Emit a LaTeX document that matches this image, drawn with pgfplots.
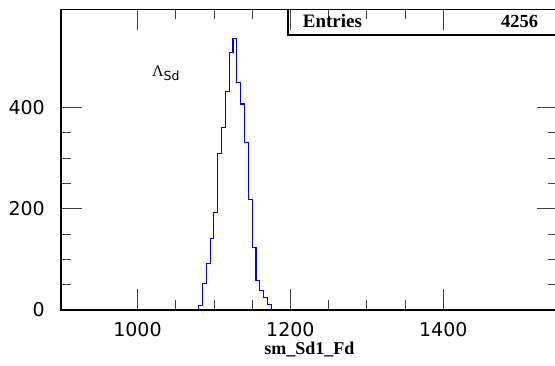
\documentclass[border=0pt]{standalone}
\usepackage{fontspec}
\setmainfont{Liberation Serif}
\newfontfamily\tickfont{DejaVu Sans}
\usepackage{pgfplots}
\pgfplotsset{compat=1.18}
\begin{document}
\begin{tikzpicture}
\path[use as bounding box] (0,0) rectangle (555pt,365pt);
\begin{axis}[
  at={(61pt,55pt)}, anchor=south west,
  scale only axis, width=497pt, height=300.7pt,
  xmin=900, xmax=1550, ymin=0, ymax=594,
  clip=false,
  xtick={1000,1200,1400}, ytick={0,200,400},
  minor x tick num=3, minor y tick num=3,
  major tick length=21pt, minor tick length=10pt,
  tick style={line width=0.8pt, black!75},
  axis line style={line width=1.6pt},
  /pgf/number format/assume math mode=true,
  /pgf/number format/1000 sep={},
  ticklabel style={font=\tickfont\fontsize{19}{19}\selectfont, inner sep=0pt},
  xticklabel style={anchor=north, yshift=-11.7pt},
  yticklabel style={anchor=east, xshift=-16pt},
  xlabel={sm\_Sd1\_Fd},
  xlabel style={at={(axis description cs:0.5,0)}, anchor=base, yshift=-44pt, inner sep=0pt, font=\bfseries\fontsize{18}{18}\selectfont},
]
\addplot[const plot, color={rgb,255:red,0;green,0;blue,255}, line width=1.1pt] coordinates {
(1080,0) (1080,9) (1085,53) (1090,91) (1095,141) (1100,193) (1105,309) (1110,361)
(1115,431) (1120,509) (1125,537) (1130,450) (1135,407) (1140,330) (1145,218)
(1150,124) (1155,59) (1160,39) (1165,25) (1170,10) (1175,10) (1175,0)
};
\draw[line width=1.6pt] (rel axis cs:0.4573,1) -- (rel axis cs:0.4573,0.9146) -- (rel axis cs:1,0.9146);
\node[anchor=base west, inner sep=0pt, font=\bfseries\fontsize{19}{19}\selectfont] at (rel axis cs:0.4863,0.940) {Entries};
\node[anchor=base east, inner sep=0pt, font=\bfseries\fontsize{18.5}{18.5}\selectfont] at (rel axis cs:0.9604,0.940) {4256};
\node[anchor=base west, inner sep=0pt] at (rel axis cs:0.183,0.775) {\fontsize{16}{16}\selectfont Λ\raisebox{-3.5pt}{\tickfont\fontsize{12.5}{12.5}\selectfont Sd}};
\end{axis}
\end{tikzpicture}
\end{document}
